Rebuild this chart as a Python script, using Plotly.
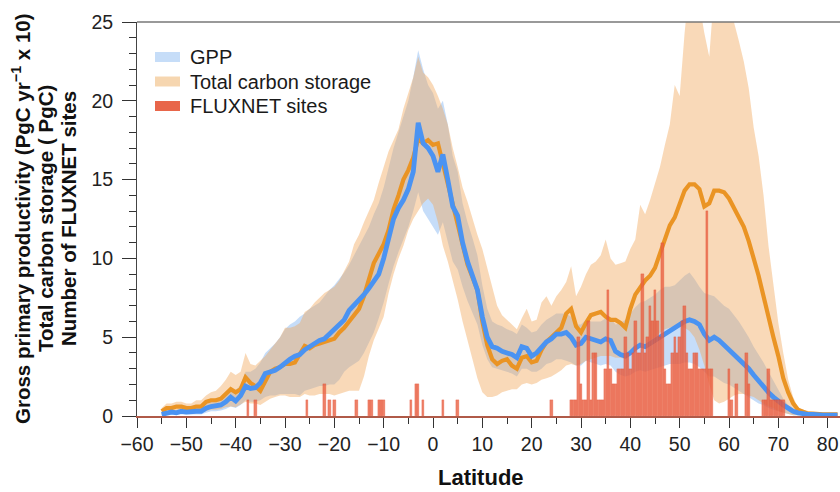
import plotly.graph_objects as go

# ---------------- data ----------------
lat = list(range(-55, 83))

gpp_mean = [0.1, 0.2, 0.25, 0.2, 0.3, 0.25, 0.3, 0.3, 0.3, 0.5,
            0.6, 0.65, 0.7, 0.9, 1.2, 0.95, 1.3, 1.9, 1.75, 1.8,
            2.1, 2.7, 2.8, 2.9, 3.1, 3.4, 3.6, 3.8, 3.9, 4.2,
            4.4, 4.6, 4.8, 4.9, 5.2, 5.4, 5.7, 6.1, 6.7, 7.0,
            7.3, 7.7, 8.1, 8.5, 9.0, 10.0, 11.2, 12.5, 13.2, 13.7,
            14.4, 15.5, 18.6, 17.3, 17.0, 16.5, 15.5, 16.6, 15.0, 13.3,
            12.7, 11.0, 9.8, 9.0, 8.0, 6.3, 5.0, 4.4, 4.3, 4.1,
            4.0, 3.9, 3.7, 4.4, 4.3, 3.8, 4.0, 4.4, 4.7, 4.9,
            5.2, 5.2, 5.3, 5.0, 4.5, 4.6, 5.0, 4.9, 4.8, 4.7,
            4.9, 4.8, 4.1, 3.9, 3.8, 4.0, 4.3, 4.5, 4.4, 4.6,
            4.8, 5.0, 5.2, 5.4, 5.6, 5.8, 6.0, 6.1, 6.0, 5.8,
            5.2, 4.8, 5.0, 4.8, 4.5, 4.25, 3.9, 3.6, 3.4, 3.0,
            2.6, 2.2, 1.9, 1.5, 1.2, 0.9, 0.7, 0.5, 0.3, 0.2,
            0.12, 0.1, 0.1, 0.05, 0.05, 0.05, 0.05, 0.05]

gpp_hi = [0.2, 0.3, 0.4, 0.4, 0.5, 0.5, 0.5, 0.6, 0.7, 0.9,
          1.0, 1.1, 1.2, 1.5, 1.8, 1.6, 2.0, 2.8, 2.8, 3.0,
          3.4, 4.0, 4.3, 4.6, 5.0, 5.5, 5.8, 6.0, 6.3, 6.5,
          6.8, 7.0, 7.2, 7.6, 8.0, 8.3, 8.7, 9.1, 9.6, 10.2,
          10.8, 11.4, 12.0, 12.8, 13.5, 14.5, 15.8, 17.0, 18.0, 19.0,
          20.0, 21.5, 23.2, 22.0, 21.0, 20.5, 19.5, 20.0, 18.5, 16.5,
          15.5, 13.5, 12.3, 11.3, 10.2, 8.3, 6.8, 6.0, 5.8, 5.7,
          5.5, 5.4, 5.2, 5.8, 5.6, 5.3, 5.4, 5.8, 6.1, 6.3,
          6.5, 6.5, 6.5, 6.3, 5.8, 5.8, 6.1, 6.0, 6.0, 6.0,
          6.2, 6.2, 5.8, 5.9, 6.1, 6.5, 6.9, 7.2, 7.3, 7.5,
          7.7, 8.0, 8.2, 8.2, 8.3, 8.6, 8.9, 9.1, 8.7, 8.2,
          7.8, 7.7, 7.6, 7.3, 7.0, 6.8, 6.4, 6.0, 5.5, 5.0,
          4.4, 3.9, 3.4, 2.8, 2.2, 1.7, 1.1, 0.7, 0.4, 0.25,
          0.18, 0.15, 0.12, 0.1, 0.1, 0.1, 0.1, 0.1]

gpp_lo = [0.05, 0.1, 0.1, 0.1, 0.1, 0.1, 0.1, 0.1, 0.1, 0.2,
          0.3, 0.3, 0.35, 0.45, 0.6, 0.5, 0.7, 1.0, 0.9, 0.9,
          1.0, 1.2, 1.3, 1.3, 1.4, 1.4, 1.4, 1.4, 1.3, 1.6,
          1.7, 1.8, 1.9, 1.9, 2.0, 2.0, 2.3, 2.8, 3.1, 3.3,
          3.5, 4.0, 4.6, 5.3, 6.2, 7.2, 8.4, 9.5, 10.4, 11.2,
          12.0, 13.0, 14.2, 13.0, 12.5, 12.0, 11.5, 12.3, 11.0, 9.8,
          9.3, 8.2, 7.3, 6.6, 5.8, 4.5, 3.6, 3.1, 3.0, 2.9,
          2.8, 2.7, 2.5, 3.0, 3.0, 2.8, 2.8, 3.0, 3.3, 3.4,
          3.6, 3.6, 3.5, 3.4, 3.2, 3.2, 3.5, 3.4, 3.3, 3.2,
          3.3, 3.2, 2.8, 2.6, 2.5, 2.6, 2.8, 2.9, 2.8, 2.9,
          3.0, 3.1, 3.2, 3.3, 3.3, 3.3, 3.4, 3.4, 3.3, 3.1,
          2.8, 2.5, 2.5, 2.3, 2.1, 2.0, 1.8, 1.6, 1.4, 1.2,
          1.0, 0.8, 0.7, 0.5, 0.4, 0.3, 0.2, 0.15, 0.05, 0.05,
          0.05, 0.05, 0.05, 0.05, 0.05, 0.05, 0.05, 0.05]

cs_mean = [0.3, 0.5, 0.5, 0.6, 0.6, 0.5, 0.5, 0.6, 0.6, 0.9,
           1.0, 1.0, 1.1, 1.4, 1.7, 1.5, 1.7, 2.45, 2.1, 1.9,
           1.6, 2.2, 2.8, 3.0, 3.1, 3.3, 3.3, 3.4, 3.9, 4.45,
           4.3, 4.5, 4.6, 4.7, 4.8, 4.9, 5.3, 5.6, 6.0, 6.4,
           6.8, 7.6, 8.6, 9.7, 10.3, 10.9, 11.8, 13.1, 14.0, 15.0,
           15.6, 16.4, 17.6, 17.3, 17.5, 17.2, 17.3, 16.0, 14.8, 13.5,
           12.3, 10.8, 9.6, 8.8, 8.0, 6.0, 4.5, 3.6, 3.3, 3.5,
           3.6, 3.2, 3.0, 3.7, 3.8, 3.4, 3.5, 4.2, 4.7, 5.0,
           5.3, 5.6, 6.5, 6.8, 5.7, 5.3, 5.9, 6.4, 6.5, 6.6,
           6.3, 6.1, 6.1, 5.9, 5.6, 6.8, 7.7, 8.2, 8.6, 8.9,
           9.4, 10.3, 11.3, 12.1, 12.6, 13.4, 14.3, 14.7, 14.7, 14.4,
           13.3, 13.5, 14.3, 14.3, 14.2, 13.8, 13.2, 12.7, 12.0, 11.1,
           10.1, 8.9, 7.6, 6.2, 5.0, 3.8, 2.4, 1.5, 0.8, 0.4,
           0.25, 0.15, 0.15, 0.1, 0.1, 0.1, 0.1, 0.1]

cs_hi = [0.5, 0.8, 0.8, 0.9, 0.9, 0.8, 0.8, 1.0, 1.0, 1.3,
         1.5, 1.6, 1.9, 2.3, 2.8, 2.6, 2.8, 4.0, 3.3, 3.2,
         3.5, 3.8, 4.2, 4.6, 5.0, 5.6, 5.6, 5.7, 5.9, 6.6,
         6.8, 7.2, 7.5, 7.8, 8.0, 8.2, 8.6, 9.2, 9.8, 10.9,
         11.5, 12.3, 13.0, 13.7, 14.8, 15.8, 16.8, 17.5, 18.2, 19.5,
         20.5, 21.5, 22.8, 21.8, 21.5, 21.0, 20.3, 19.5, 18.5, 17.0,
         15.8, 14.5, 13.6, 12.5, 11.5, 10.6, 9.4, 8.2, 7.0, 6.4,
         6.1, 5.8, 5.5, 6.2, 6.8, 6.0, 6.1, 7.2, 7.6, 7.0,
         7.6, 8.0, 8.5, 9.5, 7.6, 8.2, 9.0, 9.6, 9.8, 10.2,
         11.2, 10.0, 9.6, 9.7, 9.8, 10.6, 11.2, 13.4, 12.8, 13.7,
         14.7, 15.8, 17.2, 18.5, 21.0, 20.3, 24.3, 27.5, 28.0, 26.0,
         24.3, 22.8, 27.0, 28.5, 29.0, 27.5, 25.0, 23.8, 22.5, 20.8,
         18.3, 16.5, 14.0, 10.8, 8.2, 5.9, 4.0, 2.3, 1.2, 0.5,
         0.4, 0.3, 0.25, 0.2, 0.2, 0.2, 0.2, 0.2]

cs_lo = [0.05, 0.1, 0.15, 0.2, 0.2, 0.15, 0.15, 0.2, 0.2, 0.3,
         0.4, 0.4, 0.45, 0.55, 0.6, 0.55, 0.7, 0.9, 0.8, 0.8,
         0.7, 0.9, 1.1, 1.2, 1.3, 1.3, 1.2, 1.2, 1.2, 1.4,
         1.3, 1.3, 1.4, 1.4, 1.4, 1.3, 1.4, 1.5, 1.6, 1.6,
         1.6, 2.5, 3.8, 4.8, 5.6, 6.3, 7.8, 9.0, 10.0, 10.8,
         11.8, 12.5, 13.0, 13.5, 13.8, 13.4, 12.3, 10.8, 9.8, 8.6,
         7.4, 6.0, 4.7, 3.6, 2.4, 1.5, 1.2, 1.2, 1.3, 1.5,
         1.6, 1.7, 1.7, 2.0, 2.1, 2.0, 2.1, 2.3, 2.4, 2.5,
         2.7, 2.9, 3.2, 3.3, 3.2, 3.3, 3.5, 3.6, 3.7, 3.8,
         3.8, 3.8, 3.7, 3.7, 3.6, 4.0, 4.3, 4.5, 4.6, 4.8,
         5.0, 5.3, 5.5, 5.6, 5.7, 5.7, 5.6, 5.4, 5.0, 4.2,
         3.2, 2.0, 1.0, 0.8, 0.9, 1.1, 1.3, 1.4, 1.4, 1.3,
         1.2, 1.0, 0.8, 0.6, 0.5, 0.3, 0.2, 0.1, 0.05, 0.05,
         0.05, 0.05, 0.05, 0.05, 0.05, 0.05, 0.05, 0.05]

site_lat = [-37.5, -36.0, -25.5, -22.0, -21.0, -20.0, -15.5, -13.0, -12.5,
            -11.0, -10.5, -10.0, -4.5, -3.5, -3.0, -2.0, 2.0, 5.0, 24.0,
            28.0, 28.5, 29.0, 29.5, 30.0, 30.5, 31.0, 31.5, 32.0, 32.5,
            33.0, 33.5, 34.0, 34.5, 35.0, 35.5, 36.0, 36.5, 37.0, 37.5,
            38.0, 38.5, 39.0, 39.5, 40.0, 40.5, 41.0, 41.5, 42.0, 42.5,
            43.0, 43.5, 44.0, 44.5, 45.0, 45.5, 46.0, 46.5, 47.0, 47.5,
            48.0, 48.5, 49.0, 49.5, 50.0, 50.5, 51.0, 51.5, 52.0, 52.5,
            53.0, 53.5, 54.0, 54.5, 55.0, 55.5, 56.0, 56.5,
            60.0, 60.5, 61.5, 63.5, 64.0, 67.0, 67.5, 68.0, 68.5, 69.0,
            69.5, 70.0, 70.5, 71.0]
site_count = [1, 1, 1, 2, 1, 1, 1, 1, 1,
              1, 1, 1, 1, 2, 2, 1, 1, 1, 1,
              1, 1, 1, 5, 2, 1, 1, 6, 1, 4,
              4, 1, 1, 1, 3, 8, 3, 2, 2, 3,
              3, 3, 5, 4, 3, 4, 6, 4, 4, 9,
              4, 5, 7, 6, 8, 6, 5, 11, 3, 2,
              2, 4, 5, 4, 5, 6, 7, 4, 3, 3,
              4, 4, 3, 3, 3, 13, 3, 3,
              3, 1, 2, 4, 2, 1, 1, 3, 1, 1,
              1, 1, 1, 1]

x_ticks = [-60, -50, -40, -30, -20, -10, 0, 10, 20, 30, 40, 50, 60, 70, 80]
y_ticks = [0, 5, 10, 15, 20, 25]

legend_labels = ["GPP", "Total carbon storage", "FLUXNET sites"]
y_title_lines = ["Gross primary productivity (PgC yr<sup>\u22121</sup> x 10)",
                 "Total carbon storage ( PgC)",
                 "Number of FLUXNET sites"]

for arr in (gpp_mean, gpp_hi, gpp_lo, cs_mean, cs_hi, cs_lo):
    assert len(arr) == len(lat), len(arr)
assert len(site_lat) == len(site_count)

# ---------------- style ----------------
FONT = "Liberation Sans, Arial, Helvetica, sans-serif"
BLUE_LINE = "#4A93F2"
ORANGE_LINE = "#EA9424"
BLUE_FILL = "rgba(120,175,240,0.42)"
ORANGE_FILL = "rgba(240,165,85,0.42)"
BAR_FILL = "rgba(232,96,66,0.8)"
BAR_EDGE = "rgba(228,72,42,0.9)"

# pixel helpers (plot area: x 137..840, y 22..416)
L, R, T, B = 137, 840, 22, 416
def px(x):
    return (x - L) / (R - L)
def py(y):
    return (B - y) / (B - T)

fig = go.Figure()
fig.add_trace(go.Scatter(x=lat, y=gpp_lo, mode="lines", line=dict(width=0),
                         hoverinfo="skip", showlegend=False))
fig.add_trace(go.Scatter(x=lat, y=gpp_hi, mode="lines", line=dict(width=0),
                         fill="tonexty", fillcolor=BLUE_FILL, showlegend=False))
fig.add_trace(go.Scatter(x=lat, y=cs_lo, mode="lines", line=dict(width=0),
                         hoverinfo="skip", showlegend=False))
fig.add_trace(go.Scatter(x=lat, y=cs_hi, mode="lines", line=dict(width=0),
                         fill="tonexty", fillcolor=ORANGE_FILL, showlegend=False))
fig.add_trace(go.Scatter(x=lat, y=cs_mean, mode="lines",
                         line=dict(color=ORANGE_LINE, width=4.2), showlegend=False))
fig.add_trace(go.Scatter(x=lat, y=gpp_mean, mode="lines",
                         line=dict(color=BLUE_LINE, width=4.8), showlegend=False))
fig.add_trace(go.Bar(x=site_lat, y=site_count, width=0.5, yaxis="y2",
                     marker=dict(color=BAR_FILL, line=dict(color=BAR_EDGE, width=0.3)),
                     showlegend=False))

tickfont = dict(family=FONT, size=19.5, color="#222")
fig.update_layout(
    width=840, height=492,
    margin=dict(l=L, r=840 - R, t=T, b=492 - B),
    paper_bgcolor="white", plot_bgcolor="white",
    showlegend=False, bargap=0,
    xaxis=dict(range=[-60, 82.5], tickmode="array", tickvals=x_ticks,
               ticks="outside", ticklen=10, tickwidth=1, tickcolor="#333",
               showline=True, linecolor="#b05a48", linewidth=1.5,
               showgrid=False, zeroline=False, tickfont=tickfont,
               minor=dict(tickmode="linear", tick0=-60, dtick=5, ticks="outside",
                          ticklen=6, tickcolor="#333", showgrid=False)),
    yaxis=dict(range=[0, 25], tickmode="array", tickvals=y_ticks,
               ticks="outside", ticklen=14, tickwidth=1, tickcolor="#333",
               showline=True, linecolor="#444", linewidth=1,
               showgrid=False, zeroline=False, tickfont=tickfont,
               ticklabelstandoff=5,
               minor=dict(tickmode="linear", tick0=0, dtick=1, ticks="outside",
                          ticklen=7, tickcolor="#333", showgrid=False)),
    yaxis2=dict(range=[0, 25], overlaying="y", visible=False),
)

# top frame line
fig.add_shape(type="line", xref="paper", yref="paper", x0=0, x1=1, y0=1, y1=1,
              line=dict(color="#777", width=1.5))

# legend (manual)
legend_colors = ["#C6DDF8", "#F6D6B0", "#E8664A"]
legend_rows = [57, 81.5, 106]
for lab, col, yc in zip(legend_labels, legend_colors, legend_rows):
    fig.add_shape(type="rect", xref="paper", yref="paper",
                  x0=px(155), x1=px(180), y0=py(yc + 5), y1=py(yc - 5),
                  fillcolor=col, line=dict(width=0))
    fig.add_annotation(x=px(188), y=py(yc), xref="paper", yref="paper",
                       text=lab, showarrow=False, xanchor="left", yanchor="middle",
                       font=dict(family=FONT, size=20, color="#1a1a1a"))

# y title lines
for txt, xc in zip(y_title_lines, [21, 45, 68]):
    fig.add_annotation(x=px(xc), y=0.5, xref="paper", yref="paper",
                       text="<b>" + txt + "</b>", textangle=-90, showarrow=False,
                       xanchor="center", yanchor="middle",
                       font=dict(family=FONT, size=20.5, color="#111"))

# x title
fig.add_annotation(x=px(481), y=py(478), xref="paper", yref="paper",
                   text="<b>Latitude</b>", showarrow=False,
                   xanchor="center", yanchor="middle",
                   font=dict(family=FONT, size=22, color="#111"))

fig.write_html("out.html")
